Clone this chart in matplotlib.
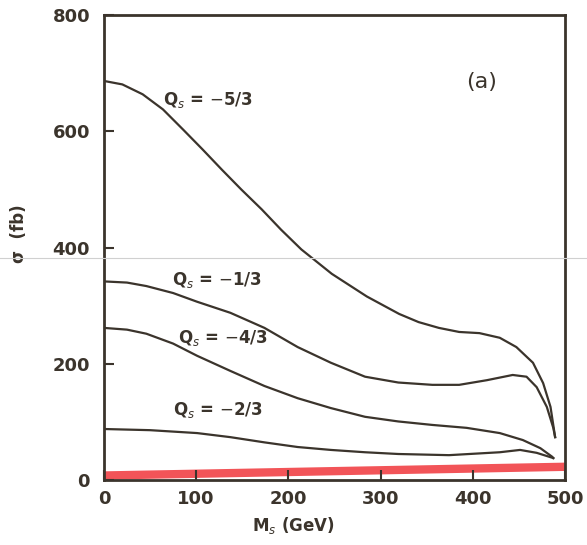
import matplotlib
matplotlib.use("Agg")
import matplotlib.pyplot as plt

# curves: M_S (GeV) vs sigma (fb)
m_53 = [0, 20, 42, 64, 86, 107, 128, 149, 171, 192, 214, 247, 285, 320, 341, 363, 385,
        407, 429, 447, 465, 476, 484, 489]
s_53 = [687, 681, 664, 638, 603, 569, 534, 500, 466, 431, 397, 355, 316, 286, 272, 262, 255,
        253, 245, 229, 202, 167, 126, 74]

m_13 = [0, 25, 46, 75, 101, 137, 174, 210, 246, 283, 319, 356, 385, 415, 443, 458, 469, 480,
        487, 489]
s_13 = [342, 340, 334, 322, 307, 288, 262, 229, 202, 178, 168, 164, 164, 172, 181, 178, 160,
        126, 90, 74]

m_43 = [0, 25, 46, 75, 101, 137, 174, 210, 246, 283, 319, 356, 393, 429, 454, 473, 486, 487]
s_43 = [262, 259, 252, 235, 214, 188, 162, 141, 124, 109, 101, 95, 90, 81, 69, 55, 40, 38]

m_23 = [0, 50, 101, 137, 174, 210, 246, 283, 319, 374, 429, 451, 469, 487]
s_23 = [88, 86, 81, 74, 65, 57, 52, 48, 45, 43, 48, 52, 47, 38]

m_red = [0, 500]
s_red = [8, 23]

labels = ["Q$_s$ = $-$5/3", "Q$_s$ = $-$1/3", "Q$_s$ = $-$4/3", "Q$_s$ = $-$2/3"]
label_x = [64, 74, 80, 75]
label_y = [655, 345, 245, 121]

xticks = [0, 100, 200, 300, 400, 500]
yticks = [0, 200, 400, 600, 800]

ink = "#3b342c"
plt.rcParams["font.family"] = ["DejaVu Sans"]

fig = plt.figure(figsize=(5.87, 5.45), dpi=100)
ax = fig.add_axes([0.177, 0.119, 0.786, 0.853])

ax.plot(m_red, s_red, color="#f25458", lw=6, solid_capstyle="butt", zorder=1)
for m, s in [(m_53, s_53), (m_13, s_13), (m_43, s_43), (m_23, s_23)]:
    ax.plot(m, s, color=ink, lw=1.6, zorder=2)

for t, x, y in zip(labels, label_x, label_y):
    ax.text(x, y, t, color=ink, fontsize=12, fontweight="bold", va="center", ha="left")
ax.text(409, 686, "(a)", color=ink, fontsize=16, ha="center", va="center")

ax.set_xlim(0, 500)
ax.set_ylim(0, 800)
ax.set_xticks(xticks)
ax.set_yticks(yticks)
ax.tick_params(direction="in", length=7, width=1.5, colors=ink, labelsize=13)
ax.tick_params(axis="y", pad=10)
ax.tick_params(axis="x", pad=7)
for lab in ax.get_xticklabels() + ax.get_yticklabels():
    lab.set_fontweight("bold")
for sp in ax.spines.values():
    sp.set_color(ink)
    sp.set_linewidth(2)

ax.set_xlabel("M$_s$ (GeV)", color=ink, fontsize=12, fontweight="bold")
ax.xaxis.set_label_coords(0.41, -0.075)
ax.set_ylabel("σ  (fb)", color=ink, fontsize=12, fontweight="bold")
ax.yaxis.set_label_coords(-0.165, 0.53)

# faint scan seam across the page
fig.add_artist(plt.Line2D([0, 1], [1 - 258 / 545] * 2, color="#d0d0d0", lw=0.8))

fig.savefig("out.png", dpi=100)
